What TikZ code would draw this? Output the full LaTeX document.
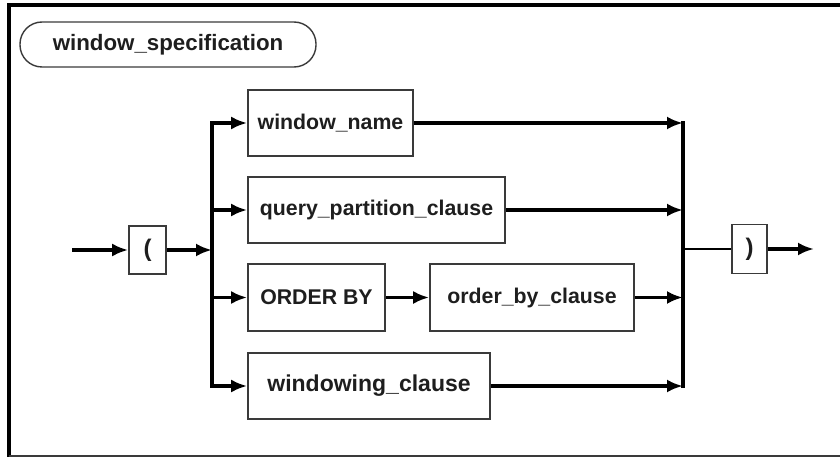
\documentclass[tikz,border=0pt]{standalone}
\usepackage{fontspec}
\setmainfont{Liberation Sans}
\usetikzlibrary{arrows.meta}
\definecolor{boxgray}{HTML}{3A3A3A}
\definecolor{textdark}{HTML}{1E1E1E}
\begin{document}
\begin{tikzpicture}[x=1pt,y=-1pt,
  box/.style={draw=boxgray, line width=1.6pt, fill=white, inner sep=0pt,
    font=\fontsize{21.3}{25}\selectfont\bfseries, text=textdark},
  paren/.style={box, font=\fontsize{24}{28}\selectfont\bfseries},
  conn/.style={line width=3.3pt, black},
  arr/.style={conn, -{Latex[length=16pt,width=13pt]}},
  thinconn/.style={line width=2.6pt, black}
]
\useasboundingbox (0,0) rectangle (840,457);
% frame
\draw[line width=4pt, black] (840,5) -- (9,5) -- (9,457);
\draw[line width=2pt, boxgray] (9,456) -- (840,456);

% title
\node[draw=boxgray, line width=1.4pt, rounded corners=22pt, minimum width=296pt, minimum height=45pt,
  inner sep=0pt, font=\fontsize{22.3}{26}\selectfont\bfseries, text=textdark] (title) at (168,44.5) {window\_specification};

% nodes
\node[paren, minimum width=37pt, minimum height=48pt] (lp) at (147.5,250) {(};
\node[box, minimum width=165pt, minimum height=66pt] (wn) at (330.5,123) {window\_name};
\node[box, minimum width=257pt, minimum height=66pt] (qpc) at (376.5,210) {query\_partition\_clause};
\node[box, minimum width=137pt, minimum height=67pt] (ob) at (316.5,297.5) {ORDER BY};
\node[box, minimum width=204pt, minimum height=67pt] (obc) at (532,297.5) {order\_by\_clause};
\node[box, minimum width=242pt, minimum height=66pt, font=\fontsize{23}{27}\selectfont\bfseries] (wc) at (369,386) {windowing\_clause};
\node[paren, minimum width=35pt, minimum height=49pt] (rp) at (749.5,249) {)};

% coordinates
\coordinate (start) at (72,250);
\coordinate (split) at (212,250);
\coordinate (s1) at (split |- wn);
\coordinate (s2) at (split |- qpc);
\coordinate (s3) at (split |- ob);
\coordinate (s4) at (split |- wc);
\coordinate (merge) at (683,249);
\coordinate (m1) at (merge |- wn);
\coordinate (m2) at (merge |- qpc);
\coordinate (m3) at (merge |- obc);
\coordinate (m4) at (merge |- wc);
\coordinate (end) at (814,249);

% connectors
\draw[arr] (start) -- (lp.west);
\draw[arr] (lp.east) -- (split);
\draw[conn, line cap=rect] (s1) -- (s4);
\draw[arr] (s1) -- (wn.west);
\draw[arr] (s2) -- (qpc.west);
\draw[arr] (s3) -- (ob.west);
\draw[arr] (s4) -- (wc.west);
\draw[arr] (ob.east) -- (obc.west);
\draw[arr] (wn.east) -- (m1);
\draw[arr] (qpc.east) -- (m2);
\draw[arr] (obc.east) -- (m3);
\draw[arr] (wc.east) -- (m4);
\draw[conn, line cap=rect] (m1) -- (m4);
\draw[thinconn] (merge) -- (rp.west);
\draw[arr] (rp.east) -- (end);
\end{tikzpicture}
\end{document}
